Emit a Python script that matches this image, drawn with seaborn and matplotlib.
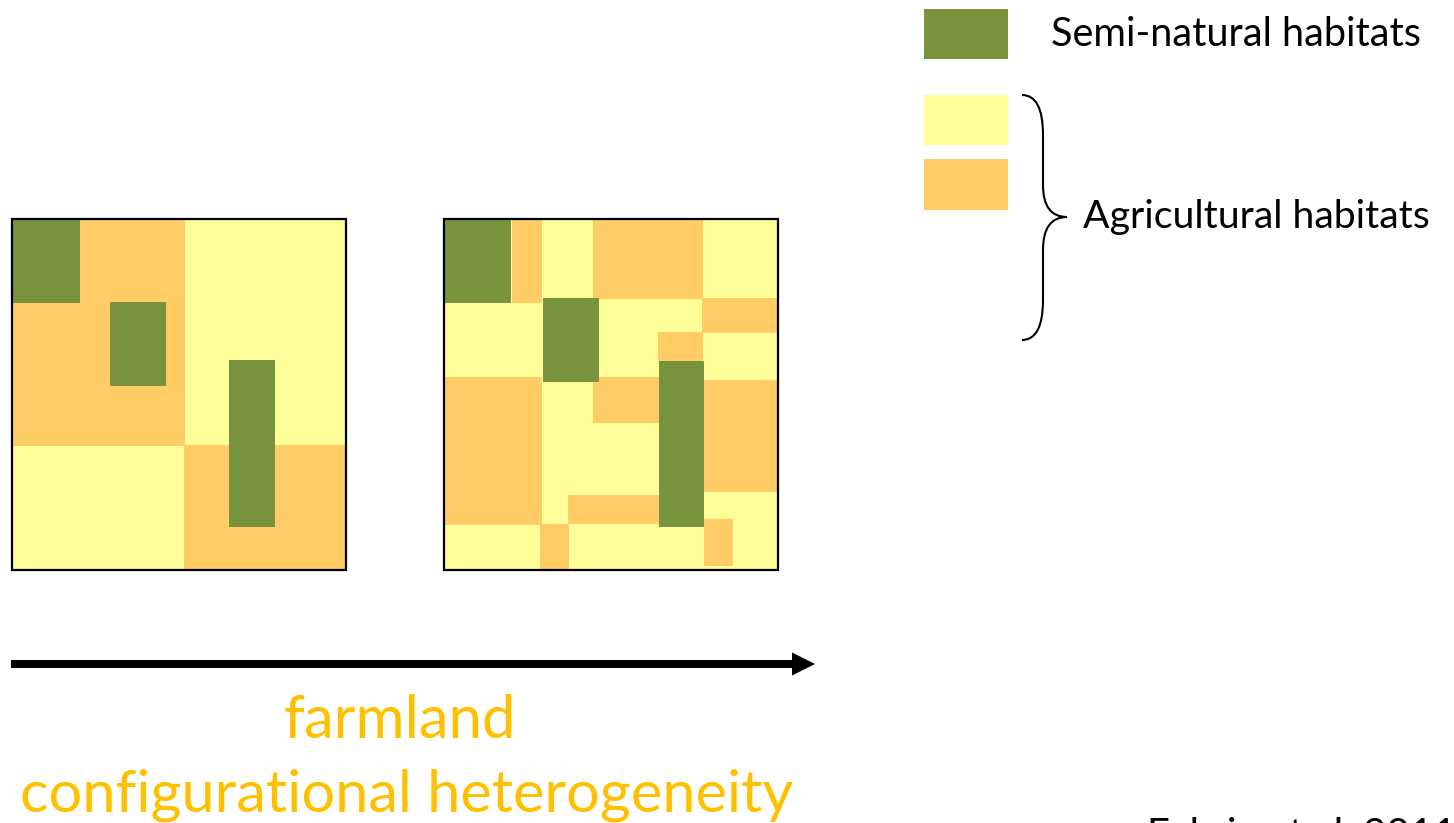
import matplotlib
matplotlib.use('Agg')
import matplotlib.pyplot as plt
from matplotlib.patches import Rectangle, PathPatch
from matplotlib.path import Path
import seaborn as sns
import pandas as pd

sns.set_theme(style='white')
plt.rcParams['font.family'] = ['Lato', 'DejaVu Sans']

# habitat colours
colors = {'semi': '#77933C', 'crop1': '#FFFF99', 'crop2': '#FFCC66'}
legend_kinds = ['semi', 'crop1', 'crop2']
legend_labels = ['Semi-natural habitats', 'Agricultural habitats']

# map 1: low configurational heterogeneity (units relative to square top-left)
map1_kind = ['crop2', 'crop1', 'crop1', 'crop2', 'semi', 'semi', 'semi']
map1_x0 = [0, 173, 0, 172, 0, 98, 217]
map1_x1 = [173, 334, 172, 334, 68, 154, 263]
map1_y0 = [0, 0, 227, 226, 0, 83, 141]
map1_y1 = [227, 226, 351, 351, 84, 167, 308]

# map 2: high configurational heterogeneity
map2_kind = ['crop1',
             'crop2', 'crop2', 'crop2', 'crop2', 'crop2',
             'crop2', 'crop2', 'crop2', 'crop2', 'crop2',
             'semi', 'semi', 'semi']
map2_x0 = [0, 68, 149, 258, 214, 0, 149, 260, 124, 96, 260, 0, 99, 215]
map2_x1 = [334, 98, 259, 334, 259, 98, 215, 334, 215, 125, 289, 67, 155, 260]
map2_y0 = [0, 0, 0, 79, 113, 158, 158, 161, 276, 305, 300, 0, 79, 142]
map2_y1 = [351, 84, 80, 114, 142, 306, 204, 273, 305, 351, 347, 84, 163, 308]

map_size = (334, 351)
map_origins = [(12, 219), (444, 219)]

axis_label = 'farmland\nconfigurational heterogeneity'
citation = 'Fahrig et al. 2011'

fig = plt.figure(figsize=(14.54, 8.23), dpi=100)
ax = fig.add_axes([0, 0, 1, 1])
ax.set_xlim(0, 1454)
ax.set_ylim(823, 0)
ax.axis('off')


def draw_map(kinds, x0, x1, y0, y1, origin):
    df = pd.DataFrame({'kind': kinds, 'x0': x0, 'x1': x1, 'y0': y0, 'y1': y1})
    ox, oy = origin
    ax.bar(df['x0'] + ox, df['y1'] - df['y0'], width=df['x1'] - df['x0'],
           bottom=df['y0'] + oy, align='edge',
           color=[colors[k] for k in df['kind']], linewidth=0)
    ax.add_patch(Rectangle(origin, map_size[0], map_size[1], fill=False,
                           edgecolor='black', lw=1.6, zorder=5))


draw_map(map1_kind, map1_x0, map1_x1, map1_y0, map1_y1, map_origins[0])
draw_map(map2_kind, map2_x0, map2_x1, map2_y0, map2_y1, map_origins[1])

# legend swatches
sw_top = [9, 95, 159]
ax.bar([924] * 3, [50, 50, 51], width=84, bottom=sw_top, align='edge',
       color=[colors[k] for k in legend_kinds], linewidth=0)
ax.text(1051, 34, legend_labels[0], fontsize=28.5, va='center', ha='left', color='black')
ax.text(1083, 217, legend_labels[1], fontsize=28.3, va='center', ha='left', color='black')

# curly brace
verts = [(1022, 95), (1043, 95), (1043, 135), (1043, 185), (1043, 217), (1067, 217),
         (1043, 217), (1043, 250), (1043, 300), (1043, 340), (1022, 340)]
codes = [Path.MOVETO, Path.CURVE3, Path.CURVE3, Path.LINETO, Path.CURVE3, Path.CURVE3,
         Path.CURVE3, Path.CURVE3, Path.LINETO, Path.CURVE3, Path.CURVE3]
ax.add_patch(PathPatch(Path(verts, codes), fill=False, edgecolor='black', lw=1.5))

# heterogeneity arrow
ax.arrow(11, 664, 804, 0, width=8, head_width=23, head_length=23,
         length_includes_head=True, color='black', linewidth=0)

lines = axis_label.split('\n')
ax.text(400, 738, lines[0], fontsize=43, ha='center', va='baseline', color='#FFC000')
ax.text(406, 812, lines[1], fontsize=42.8, ha='center', va='baseline', color='#FFC000')

# citation sits partly below the bottom edge, as in the original slide
ax.text(1147, 847, citation, fontsize=29, ha='left', va='baseline', color='black')

fig.savefig('out.png', dpi=100)
